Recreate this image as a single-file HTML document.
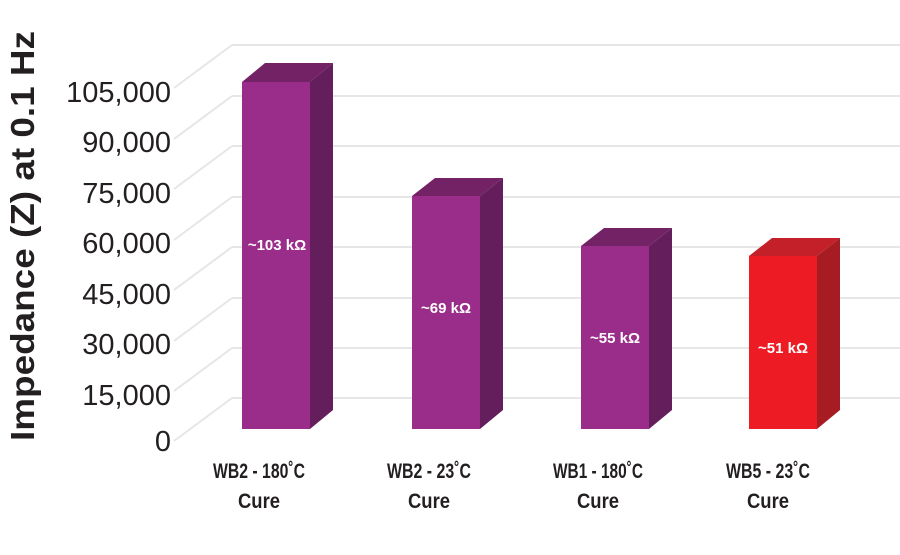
<!DOCTYPE html>
<html><head><meta charset="utf-8"><style>html,body{margin:0;padding:0;background:#fff;}</style></head>
<body>
<svg width="900" height="550" viewBox="0 0 900 550" xmlns="http://www.w3.org/2000/svg" font-family="Liberation Sans, sans-serif">
<g stroke="#e6e6e6" stroke-width="2" fill="none">
<line x1="232" y1="45" x2="900" y2="45"/><line x1="232" y1="96" x2="900" y2="96"/><line x1="232" y1="146" x2="900" y2="146"/><line x1="232" y1="197" x2="900" y2="197"/><line x1="232" y1="247" x2="900" y2="247"/><line x1="232" y1="298" x2="900" y2="298"/><line x1="232" y1="348" x2="900" y2="348"/><line x1="232" y1="398" x2="900" y2="398"/>
<line x1="232" y1="45" x2="174" y2="88"/><line x1="232" y1="96" x2="174" y2="139"/><line x1="232" y1="146" x2="174" y2="189"/><line x1="232" y1="197" x2="174" y2="240"/><line x1="232" y1="247" x2="174" y2="290"/><line x1="232" y1="298" x2="174" y2="341"/><line x1="232" y1="348" x2="174" y2="391"/><line x1="232" y1="398" x2="174" y2="441"/>
</g>
<g>
<polygon points="242,82 265,63 333,63 310,82" fill="#742266"/><polygon points="310,82 333,63 333,410 310,429" fill="#641e5b"/><rect x="242" y="82" width="68" height="347" fill="#9b2d8a"/>
<polygon points="412,196 435,178 503,178 480,196" fill="#742266"/><polygon points="480,196 503,178 503,410 480,429" fill="#641e5b"/><rect x="412" y="196" width="68" height="233" fill="#9b2d8a"/>
<polygon points="581,246 604,228 672,228 649,246" fill="#742266"/><polygon points="649,246 672,228 672,410 649,429" fill="#641e5b"/><rect x="581" y="246" width="68" height="183" fill="#9b2d8a"/>
<polygon points="749,256 772,238 840,238 817,256" fill="#c4202a"/><polygon points="817,256 840,238 840,410 817,429" fill="#a61c22"/><rect x="749" y="256" width="68" height="173" fill="#ed1c24"/>
</g>
<g fill="#fff" font-size="15" font-weight="bold" text-anchor="middle">
<text x="277" y="250">~103 kΩ</text><text x="446" y="313">~69 kΩ</text><text x="615" y="343">~55 kΩ</text><text x="783" y="353">~51 kΩ</text>
</g>
<g fill="#231f20" font-size="29" text-anchor="end">
<text x="171" y="102">105,000</text><text x="171" y="152">90,000</text><text x="171" y="203">75,000</text><text x="171" y="253">60,000</text><text x="171" y="304">45,000</text><text x="171" y="354">30,000</text><text x="171" y="405">15,000</text><text x="171" y="451">0</text>
</g>
<text transform="translate(34,236) rotate(-90)" text-anchor="middle" font-size="33" font-weight="bold" fill="#231f20" textLength="410" lengthAdjust="spacingAndGlyphs">Impedance (Z) at 0.1 Hz</text>
<g fill="#231f20" font-size="21" font-weight="bold" text-anchor="middle">
<text x="259" y="478" textLength="92" lengthAdjust="spacingAndGlyphs">WB2 - 180˚C</text><text x="259" y="508" textLength="42" lengthAdjust="spacingAndGlyphs">Cure</text>
<text x="429" y="478" textLength="84" lengthAdjust="spacingAndGlyphs">WB2 - 23˚C</text><text x="429" y="508" textLength="42" lengthAdjust="spacingAndGlyphs">Cure</text>
<text x="598" y="478" textLength="90" lengthAdjust="spacingAndGlyphs">WB1 - 180˚C</text><text x="598" y="508" textLength="42" lengthAdjust="spacingAndGlyphs">Cure</text>
<text x="768" y="478" textLength="84" lengthAdjust="spacingAndGlyphs">WB5 - 23˚C</text><text x="768" y="508" textLength="42" lengthAdjust="spacingAndGlyphs">Cure</text>
</g>
</svg>
</body></html>
